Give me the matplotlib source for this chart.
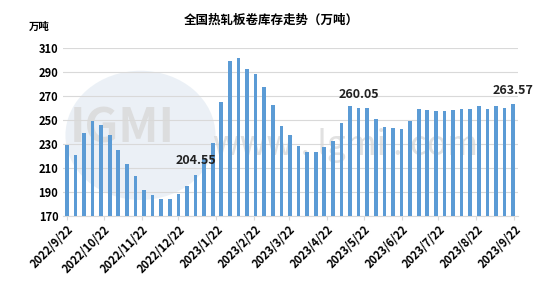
import numpy as np
import pandas as pd
import matplotlib
matplotlib.use('Agg')
import matplotlib.pyplot as plt
from matplotlib.patches import Ellipse

plt.rcParams['font.family'] = ['Noto Sans CJK SC', 'DejaVu Sans']

# weekly hot-rolled coil inventory (10k tonnes)
dates = pd.date_range('2022-09-22', periods=53, freq='7D')
values = [229.2, 220.8, 239.4, 249.2, 246.1, 237.7, 225.0, 213.6, 203.0, 191.4,
          187.5, 183.9, 183.9, 188.3, 195.0, 204.55, 218.3, 230.5, 265.0, 299.4,
          301.9, 292.5, 288.0, 277.5, 262.2, 245.3, 237.2, 228.0, 223.3, 223.1,
          227.5, 232.5, 247.8, 261.5, 260.05, 260.0, 251.0, 244.4, 243.3, 242.5,
          249.4, 258.8, 258.3, 257.5, 257.8, 258.3, 259.2, 259.2, 261.3, 259.2,
          261.7, 260.0, 263.57]
labelled = [15, 34, 52]
tick_dates = pd.date_range('2022-09-01', '2023-09-01', freq='MS') + pd.Timedelta(days=21)
tick_labels = [f'{d.year}/{d.month}/{d.day}' for d in tick_dates]

fig = plt.figure(figsize=(5.54, 2.95), dpi=100)
ax = fig.add_axes([0.114, 0.268, 0.821, 0.569])

ax.bar(dates, values, width=3.0, bottom=0, color='#5B9BD5', zorder=3)
ax.set_ylim(170, 310)
ax.set_yticks(np.arange(170, 311, 20))
ax.set_xlim(pd.Timestamp('2022-09-19'), pd.Timestamp('2023-09-25'))
ax.set_xticks(tick_dates)
ax.set_xticklabels(tick_labels, rotation=45, ha='right', rotation_mode='anchor',
                   fontsize=8, fontweight='bold')
ax.tick_params(axis='y', length=0, labelsize=8)
for t in ax.get_yticklabels():
    t.set_fontweight('bold')
ax.tick_params(axis='x', length=3, color='#D9D9D9', pad=2)
ax.grid(axis='y', color='#D9D9D9', linewidth=0.8, zorder=0)
for s in ['top', 'right', 'left']:
    ax.spines[s].set_visible(False)
ax.spines['bottom'].set_color('#D9D9D9')

for i in labelled:
    ax.text(dates[i], values[i] + 6, f'{values[i]:.2f}', ha='center', va='bottom',
            fontsize=9, fontweight='bold', color='#222222', zorder=5)

# faint watermark
ax.add_patch(Ellipse((0.17, 0.48), 0.33, 0.77, transform=ax.transAxes,
                     facecolor='#E3EBF3', edgecolor='none', alpha=0.7, zorder=1))
ax.text(0.13, 0.52, 'IGMI', transform=ax.transAxes, ha='center', va='center',
        fontsize=34, fontweight='bold', color='#DADADA', alpha=0.85, zorder=2)
ax.text(0.62, 0.42, 'www . lgmi . com', transform=ax.transAxes, ha='center',
        va='center', fontsize=24, color='#D5D5D5', alpha=0.7, zorder=2)

fig.text(0.49, 0.93, '全国热轧板卷库存走势（万吨）', ha='center', va='center',
         fontsize=9, fontweight='bold')
fig.text(0.07, 0.91, '万吨', ha='center', va='center', fontsize=7.5, fontweight='bold')

fig.savefig('out.png', dpi=100)
